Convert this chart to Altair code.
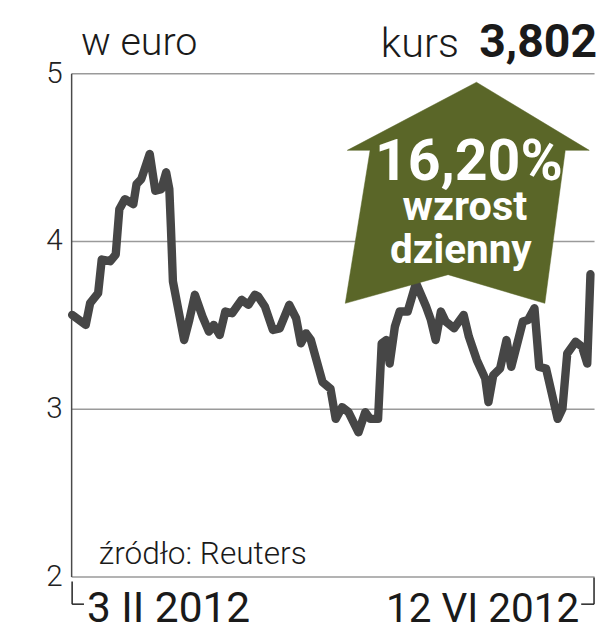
import altair as alt
import pandas as pd

# --- data ---
dni = [0, 3.4, 4.5, 6.5, 7.4, 9.5, 10.9, 11.8, 13.2, 15.3, 16.1, 17.3, 19.4, 20.8, 22.3,
       23.5, 24.3, 24.7, 25.2, 26.4, 28.0, 29.3, 30.7, 32.6, 34.2, 35.4, 36.9, 38.3, 40.0, 42.4,
       44.1, 45.7, 46.5, 48.2, 50.2, 51.9, 54.3, 56.0, 57.2, 58.5, 59.7, 62.6, 64.6, 65.9, 67.5,
       69.1, 71.6, 73.3, 74.5, 76.5, 77.4, 78.6, 79.4, 80.7, 81.9, 83.9, 86.0, 88.5, 89.7, 90.9,
       92.2, 93.4, 95.5, 97.9, 99.2, 101.2, 103.3, 104.1, 105.3, 107.0, 108.6, 109.8, 111.1, 112.7,
       114.0, 115.6, 116.8, 118.5, 121.4, 122.6, 123.8, 125.9, 127.5, 128.8, 129.6]
kurs = [3.56, 3.50, 3.63, 3.69, 3.89, 3.88, 3.92, 4.19, 4.25, 4.22, 4.34, 4.37, 4.52, 4.30, 4.31,
        4.41, 4.31, 4.08, 3.76, 3.61, 3.41, 3.53, 3.68, 3.55, 3.46, 3.50, 3.44, 3.58, 3.57, 3.65,
        3.62, 3.68, 3.67, 3.61, 3.47, 3.48, 3.62, 3.54, 3.39, 3.45, 3.41, 3.16, 3.12, 2.94, 3.01,
        2.98, 2.86, 2.98, 2.94, 2.94, 3.39, 3.41, 3.27, 3.49, 3.58, 3.58, 3.75, 3.61, 3.53, 3.41,
        3.58, 3.52, 3.48, 3.56, 3.43, 3.29, 3.18, 3.04, 3.20, 3.24, 3.41, 3.25, 3.37, 3.52, 3.53,
        3.60, 3.25, 3.24, 2.94, 3.00, 3.33, 3.40, 3.37, 3.27, 3.802]
y_ticks = [2, 3, 4, 5]

# arrow annotation outline (in data units: day, euro)
strzalka_d = [101.1, 129.3, 123.3, 118.2, 94.0, 68.3, 74.5, 68.8]
strzalka_v = [4.947, 4.541, 4.541, 3.629, 3.800, 3.629, 4.541, 4.541]
napisy = ["16,20%", "wzrost", "dzienny"]
napisy_d = [99.2, 98.2, 97.2]
napisy_v = [4.365, 4.125, 3.871]
napisy_size = [58, 42, 41]

FONT = "Roboto"
LINE_C = "#464646"
OLIVE = "#5a6628"

xs = alt.Scale(domain=[-0.25, 130.5], nice=False, zero=False)
ys = alt.Scale(domain=[2, 5], nice=False, zero=False)
yaxis = alt.Axis(values=y_ticks, grid=True, gridColor="#9a9a9a", gridWidth=1.5,
                 domain=True, domainColor="#4a4a4a", domainWidth=1.5, ticks=False,
                 labelFont=FONT, labelFontSize=30, labelFontWeight=300, labelColor="#222222",
                 labelPadding=9, title=None)


def X():
    return alt.X("d:Q", scale=xs, axis=None)


def Y():
    return alt.Y("v:Q", scale=ys, axis=yaxis)


df = pd.DataFrame({"d": dni, "v": kurs})
line = alt.Chart(df).mark_line(color=LINE_C, strokeWidth=8.5, strokeJoin="round",
                               strokeCap="round").encode(x=X(), y=Y())

arr_df = pd.DataFrame({"d": strzalka_d, "v": strzalka_v, "i": list(range(len(strzalka_d)))})
arrow = alt.Chart(arr_df).mark_line(fill=OLIVE, stroke=OLIVE, strokeWidth=0.5,
                                    interpolate="linear-closed").encode(
    x=X(), y=Y(), order="i:Q")

txt_df = pd.DataFrame({"d": napisy_d, "v": napisy_v, "t": napisy, "s": napisy_size})
arrow_txt = alt.Chart(txt_df).mark_text(
    font=FONT, fontWeight="bold", align="center", baseline="alphabetic",
    color="#ffffff").encode(
    x=X(), y=Y(), text="t:N",
    size=alt.Size("s:Q", scale=None, legend=None))

one = pd.DataFrame({"k": [0]})


def label(text, x, y, size, weight, align="left", color="#1a1a1a"):
    return alt.Chart(one).mark_text(text=text, font=FONT, fontSize=size, fontWeight=weight,
                                    align=align, baseline="alphabetic", color=color).encode(
        x=alt.value(x), y=alt.value(y))


def rule(x, y, x2=None, y2=None):
    enc = {"x": alt.value(x), "y": alt.value(y)}
    if x2 is not None:
        enc["x2"] = alt.value(x2)
    if y2 is not None:
        enc["y2"] = alt.value(y2)
    return alt.Chart(one).mark_rule(color="#222222", strokeWidth=1.5).encode(**enc)


labels = [
    label("w euro", 10, -19, 40, 300),
    label("kurs", 393, -17, 42, 300, align="right"),
    label("3,802", 533, -17, 47, "bold", align="right"),
    label("źródło: Reuters", 28, 497, 32, 300),
    label("3 II 2012", 16, 556, 43, 400),
    label("12 VI 2012", 515, 556, 41, 400, align="right"),
    rule(1, 515, y2=538), rule(1, 538, x2=13),
    rule(530, 511, y2=538), rule(517, 538, x2=530),
]

chart = alt.layer(line, arrow, arrow_txt, *labels).properties(
    width=530, height=510,
    autosize=alt.AutoSizeParams(type="none"),
    padding={"left": 64, "top": 62, "right": 3, "bottom": 55},
).configure_view(stroke=None)

chart.save("out.html", embed_options={"renderer": "svg", "actions": False})
